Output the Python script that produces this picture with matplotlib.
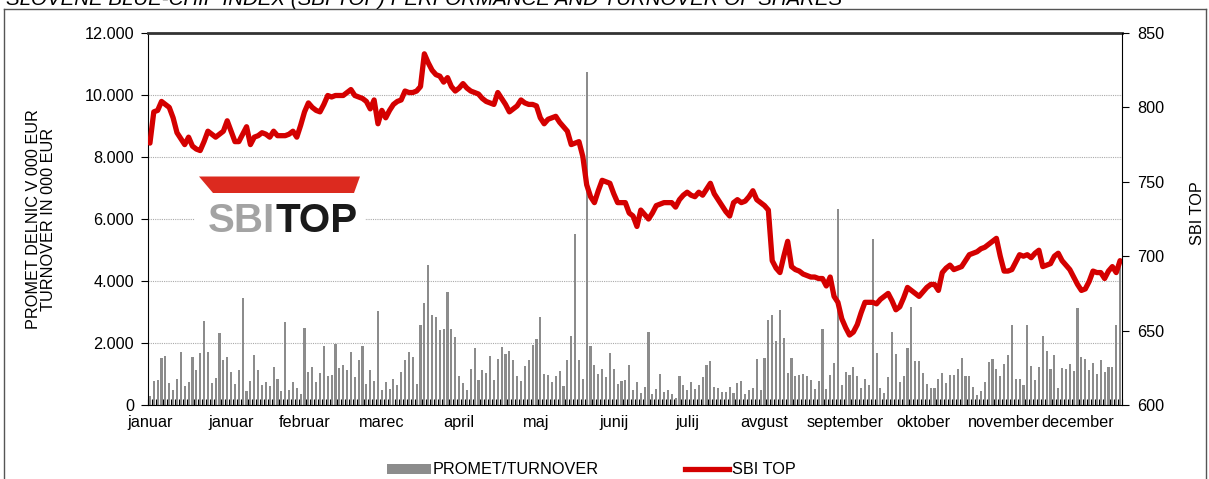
import matplotlib
matplotlib.use("Agg")
import matplotlib.pyplot as plt
import numpy as np
from matplotlib.lines import Line2D
from matplotlib.patches import Patch, Polygon
from matplotlib.ticker import FuncFormatter

plt.rcParams['font.family'] = ['Liberation Sans', 'DejaVu Sans']

title = "SLOVENE BLUE-CHIP INDEX (SBI TOP) PERFORMANCE AND TURNOVER OF SHARES"
month_labels = ['januar', 'januar', 'februar', 'marec', 'april', 'maj', 'junij',
                'julij', 'avgust', 'september', 'oktober', 'november', 'december']
month_pos = [0, 21, 40, 60, 80, 100, 120, 139, 159, 180, 200, 221, 240]

# promet (000 EUR), en stolpec na trgovalni dan
turnover = [
    280, 770, 820, 1520, 1570, 710, 500, 840, 1710, 610,
    740, 1550, 1140, 1680, 2720, 1700, 710, 860, 2320, 1460,
    1540, 1070, 690, 1120, 3440, 450, 770, 1600, 1140, 630,
    740, 610, 1240, 840, 450, 2680, 500, 740, 550, 360,
    2480, 1070, 1240, 740, 1040, 1910, 930, 960, 1970, 1200,
    1300, 1140, 1700, 910, 1460, 1890, 690, 1140, 770, 3040,
    500, 740, 530, 850, 660, 1060, 1460, 1700, 1540, 690,
    2570, 3280, 4530, 2890, 2830, 2430, 2460, 3660, 2460, 2190,
    930, 710, 480, 1170, 1840, 800, 1120, 1040, 1570, 820,
    1500, 1870, 1650, 1750, 1450, 930, 790, 1250, 1460, 1940,
    2130, 2850, 1010, 960, 750, 930, 1090, 610, 1460, 2240,
    5530, 1460, 850, 10740, 1890, 1300, 1010, 1160, 900, 1680,
    1160, 690, 770, 800, 1300, 500, 740, 390, 590, 2370,
    340, 520, 1010, 410, 470, 340, 230, 930, 630, 480,
    750, 530, 640, 910, 1300, 1410, 590, 550, 410, 410,
    590, 390, 710, 770, 340, 500, 550, 1490, 470, 1520,
    2750, 2890, 2050, 3070, 2160, 1040, 1520, 930, 980, 1000,
    950, 800, 520, 790, 2460, 530, 960, 1360, 6330, 630,
    1050, 960, 1220, 930, 550, 850, 630, 5370, 1680, 560,
    390, 900, 2370, 1660, 740, 950, 1840, 3170, 1410, 1410,
    1040, 690, 550, 550, 840, 1040, 710, 960, 980, 1170,
    1520, 920, 950, 590, 310, 450, 750, 1390, 1500, 1170,
    920, 1320, 1620, 2590, 850, 830, 660, 2590, 1270, 820,
    1220, 2240, 1730, 1170, 1620, 550, 1200, 1160, 1320, 1110,
    3120, 1550, 1490, 1120, 1360, 1010, 1460, 1050, 1220, 1230,
    2590, 4700,
]

# vrednost indeksa SBI TOP
sbitop = [
    776, 797, 798, 804, 802, 800, 793, 783, 779, 775,
    780, 774, 772, 771, 777, 784, 782, 780, 782, 784,
    791, 784, 777, 777, 782, 787, 775, 780, 781, 783,
    782, 780, 784, 781, 781, 781, 782, 784, 780, 788,
    797, 803, 800, 798, 797, 802, 808, 807, 808, 808,
    808, 810, 812, 808, 807, 806, 804, 799, 805, 789,
    798, 793, 798, 802, 804, 805, 811, 810, 810, 811,
    814, 836, 830, 825, 822, 821, 817, 820, 814, 811,
    813, 816, 813, 811, 810, 809, 806, 804, 803, 802,
    810, 806, 802, 797, 799, 801, 805, 803, 802, 802,
    801, 793, 789, 792, 793, 794, 790, 787, 784, 775,
    776, 777, 767, 748, 740, 736, 744, 751, 750, 749,
    742, 736, 736, 736, 729, 727, 720, 731, 728, 725,
    729, 734, 735, 736, 736, 736, 733, 738, 741, 743,
    741, 740, 743, 741, 745, 749, 742, 738, 734, 730,
    727, 736, 738, 736, 737, 740, 744, 738, 736, 734,
    731, 697, 692, 689, 700, 710, 693, 691, 690, 688,
    687, 686, 686, 685, 685, 680, 686, 673, 669, 658,
    652, 647, 649, 654, 662, 669, 669, 669, 668, 671,
    673, 675, 670, 664, 666, 672, 679, 677, 675, 673,
    676, 679, 681, 681, 677, 689, 692, 694, 691, 692,
    693, 697, 701, 702, 703, 705, 706, 708, 710, 712,
    700, 690, 690, 691, 696, 701, 700, 701, 699, 702,
    704, 693, 694, 695, 700, 702, 697, 694, 691, 686,
    681, 677, 678, 683, 690, 689, 689, 685, 690, 693,
    689, 697,
]

W, H = 1209, 479
bar_color = '#8c8c8c'
line_color = '#d40000'
fs = 11.7

fig = plt.figure(figsize=(W / 100, H / 100), dpi=100)
ax = fig.add_axes([148 / W, 1 - 405 / H, (1122 - 148) / W, (405 - 33) / H])

x = np.arange(len(turnover))
ax.bar(x, turnover, width=0.55, color=bar_color, zorder=2)
ax.set_xlim(-0.5, len(turnover) - 0.5)
ax.set_ylim(0, 12000)
ax.set_yticks(range(0, 12001, 2000))
ax.yaxis.set_major_formatter(FuncFormatter(lambda v, p: f'{v:,.0f}'.replace(',', '.')))
ax.grid(axis='y', linestyle=(0, (1, 1)), color='#aaaaaa', lw=0.8)
ax.set_axisbelow(True)

ax.set_xticks(month_pos)
ax.set_xticklabels(month_labels)
ax.set_xticks(np.arange(len(turnover) + 1) - 0.5, minor=True)
ax.tick_params(axis='x', which='major', length=0, pad=7, labelsize=fs)
ax.tick_params(axis='x', which='minor', direction='in', length=4, width=0.8)
ax.tick_params(axis='y', direction='out', length=5, labelsize=fs, pad=5)

ax.spines['top'].set_color('#333333')
ax.spines['top'].set_linewidth(2)
ax.spines['right'].set_visible(False)
ax.spines['left'].set_color('black')
ax.spines['bottom'].set_color('black')

ax2 = ax.twinx()
ax2.plot(x, sbitop, color=line_color, lw=3.8, solid_joinstyle='round', solid_capstyle='round')
ax2.set_ylim(600, 850)
ax2.set_yticks(range(600, 851, 50))
ax2.tick_params(axis='y', direction='out', length=5, labelsize=fs, pad=6)
for s in ['top', 'left', 'bottom']:
    ax2.spines[s].set_visible(False)
ax2.spines['right'].set_color('black')

fig.text(41 / W, 1 - 219 / H, "PROMET DELNIC V 000 EUR\nTURNOVER IN 000 EUR",
         rotation=90, ha='center', va='center', fontsize=fs, multialignment='center',
         linespacing=1.05)
fig.text(1197 / W, 1 - 213 / H, "SBI TOP", rotation=90, ha='center', va='center', fontsize=fs)

fig.text(6 / W, 1 - 5 / H, title, fontstyle='italic', fontsize=14.8, va='baseline')

# logo SBITOP
lax = fig.add_axes([195 / W, 1 - 240 / H, 170 / W, 66 / H], zorder=5)
lax.set_xlim(195, 365)
lax.set_ylim(240, 174)
lax.set_xticks([])
lax.set_yticks([])
for s in lax.spines.values():
    s.set_visible(False)
lax.add_patch(Polygon([(199, 176.5), (360, 176.5), (354, 193), (213, 193)],
                      closed=True, color='#dc2a1f', lw=0))
lax.text(208, 232, "SBI", color='#a3a3a3', fontsize=29, fontweight='bold', va='baseline')
lax.text(276, 232, "TOP", color='#1a1a1a', fontsize=29, fontweight='bold', va='baseline')

# okvir
frame_kw = dict(transform=fig.transFigure, color='#555555', lw=1)
fig.add_artist(Line2D([4 / W, 4 / W], [0, 1 - 9 / H], **frame_kw))
fig.add_artist(Line2D([4 / W, 1206 / W], [1 - 9 / H, 1 - 9 / H], **frame_kw))
fig.add_artist(Line2D([1206 / W, 1206 / W], [0, 1 - 9 / H], **frame_kw))

handles = [Patch(facecolor=bar_color, edgecolor='none', label='PROMET/TURNOVER'),
           Line2D([], [], color=line_color, lw=3.8, label='SBI TOP')]
fig.legend(handles=handles, loc='center', bbox_to_anchor=(591 / W, 1 - 470 / H), ncol=2,
           frameon=False, fontsize=fs, handlelength=2.7, handletextpad=0.15,
           columnspacing=5.3, handleheight=0.6)

fig.savefig('out.png', dpi=100)
